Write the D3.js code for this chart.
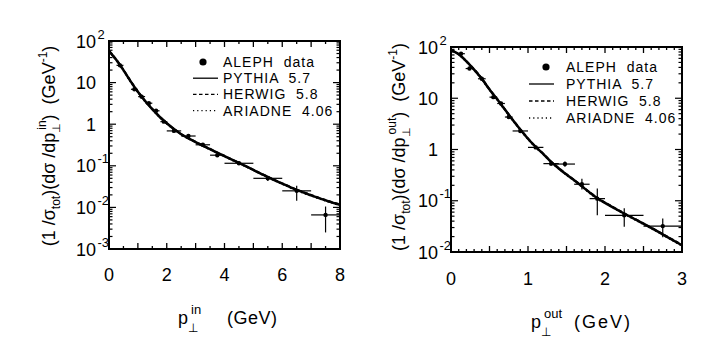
<!DOCTYPE html>
<html><head><meta charset="utf-8">
<script src="https://cdn.jsdelivr.net/npm/d3@7"></script>
<style>
body{margin:0;background:#fff}
svg{display:block}
text{font-family:"Liberation Sans",Arial,sans-serif;fill:#000}
</style>
</head><body>
<svg id="c" width="708" height="353"></svg>
<script>
// ---------------- DATA ----------------
// Left panel: p_perp^in (GeV)
const leftP    = [0.38, 0.88, 1.13, 1.38, 1.63, 1.9, 2.25, 2.75, 3.25, 3.75, 4.5, 5.5, 6.5, 7.5];
const leftV    = [26, 6.9, 4.6, 3.2, 2.1, 1.15, 0.69, 0.52, 0.32, 0.18, 0.115, 0.050, 0.025, 0.0066];
const leftXerr = [0.12, 0.12, 0.12, 0.12, 0.12, 0.12, 0.25, 0.25, 0.25, 0.25, 0.5, 0.5, 0.5, 0.5];
const leftYlo  = [24.5, 6.5, 4.35, 3.0, 1.98, 1.08, 0.65, 0.49, 0.30, 0.168, 0.105, 0.043, 0.0145, 0.0025];
const leftYhi  = [27.5, 7.3, 4.85, 3.4, 2.22, 1.22, 0.73, 0.55, 0.34, 0.192, 0.126, 0.058, 0.033, 0.0105];

const leftCurveP  = [0, 0.25, 0.5, 0.75, 1, 1.25, 1.5, 1.75, 2, 2.5, 3, 3.5, 4, 4.5, 5, 5.5, 6, 6.5, 7, 7.5, 8];
const pythiaLeft  = [57.5, 35.5, 20.0, 10.7, 6.0, 3.6, 2.3, 1.51, 1.05, 0.575, 0.372, 0.251, 0.170, 0.117, 0.0794, 0.0537, 0.0372, 0.0263, 0.0195, 0.0148, 0.0115];
const herwigLeft  = [58, 36, 20.3, 10.9, 6.1, 3.65, 2.33, 1.53, 1.06, 0.58, 0.376, 0.254, 0.172, 0.118, 0.080, 0.0543, 0.0378, 0.0268, 0.0199, 0.0151, 0.0118];
const ariadneLeft = [56.5, 35, 19.7, 10.5, 5.9, 3.55, 2.27, 1.49, 1.04, 0.57, 0.368, 0.248, 0.168, 0.1155, 0.0785, 0.0530, 0.0366, 0.0258, 0.0191, 0.0145, 0.0112];

// Right panel: p_perp^out (GeV)
const rightP    = [0.13, 0.24, 0.4, 0.55, 0.65, 0.75, 0.9, 1.1, 1.3, 1.48, 1.7, 1.9, 2.25, 2.75];
const rightV    = [74, 38, 24, 10.5, 7.9, 4.3, 2.3, 1.1, 0.53, 0.52, 0.21, 0.11, 0.052, 0.032];
const rightXerr = [0.05, 0.05, 0.05, 0.05, 0.05, 0.05, 0.1, 0.1, 0.1, 0.13, 0.1, 0.1, 0.25, 0.25];
const rightYlo  = [70, 36, 22.8, 10, 7.5, 4.1, 2.15, 1.02, 0.48, 0.46, 0.166, 0.052, 0.031, 0.0195];
const rightYhi  = [78, 40, 25.2, 11, 8.3, 4.5, 2.45, 1.18, 0.58, 0.58, 0.27, 0.174, 0.071, 0.045];

const rightCurveP  = [0, 0.1, 0.2, 0.3, 0.4, 0.5, 0.6, 0.7, 0.8, 0.9, 1.0, 1.1, 1.2, 1.3, 1.4, 1.5, 1.6, 1.7, 1.8, 1.9, 2.0, 2.2, 2.4, 2.6, 2.8, 3.0];
const pythiaRight  = [87, 72.4, 52.5, 36.3, 24.0, 14.8, 9.55, 6.03, 3.80, 2.45, 1.62, 1.12, 0.813, 0.575, 0.427, 0.324, 0.251, 0.191, 0.145, 0.112, 0.0912, 0.0617, 0.0427, 0.0295, 0.0200, 0.0135];
const herwigRight  = [88, 73, 53, 36.8, 24.4, 15.0, 9.7, 6.1, 3.85, 2.48, 1.64, 1.13, 0.822, 0.582, 0.432, 0.328, 0.254, 0.194, 0.147, 0.114, 0.0925, 0.0626, 0.0433, 0.0299, 0.0203, 0.0138];
const ariadneRight = [86, 71.8, 52, 35.9, 23.7, 14.6, 9.45, 5.96, 3.76, 2.42, 1.60, 1.11, 0.805, 0.569, 0.422, 0.320, 0.248, 0.189, 0.143, 0.110, 0.0900, 0.0609, 0.0421, 0.0291, 0.0197, 0.0133];

// Ticks and labels
const leftXTicks  = [0, 2, 4, 6, 8];
const rightXTicks = [0, 1, 2, 3];
const leftYTicks  = [1e-3, 1e-2, 1e-1, 1, 10, 100];
const leftYBase   = ["10", "10", "10", "1", "10", "10"];
const leftYSup    = ["-3", "-2", "-1", "", "", "2"];
const rightYTicks = [1e-2, 1e-1, 1, 10, 100];
const rightYBase  = ["10", "10", "1", "10", "10"];
const rightYSup   = ["-2", "-1", "", "", "2"];

const legendLabels = ["ALEPH  data", "PYTHIA  5.7", "HERWIG  5.8", "ARIADNE  4.06"];

// ---------------- DRAW ----------------
const svg = d3.select("#c");

function drawPanel(cfg) {
  const x = d3.scaleLinear().domain(cfg.xDomain).range([cfg.x0, cfg.x1]);
  const y = d3.scaleLog().domain(cfg.yDomain).range([cfg.y1, cfg.y0]);
  const g = svg.append("g");

  const clipId = "clip" + cfg.id;
  svg.append("clipPath").attr("id", clipId).append("rect")
    .attr("x", cfg.x0).attr("y", cfg.y0).attr("width", cfg.x1 - cfg.x0).attr("height", cfg.y1 - cfg.y0);

  // x ticks (inside, bottom and top)
  const xt = d3.range(cfg.xDomain[0], cfg.xDomain[1] + 1e-9, cfg.xMinor);
  xt.forEach(v => {
    const isMaj = Math.abs(v / cfg.xMajor - Math.round(v / cfg.xMajor)) < 1e-6;
    const len = isMaj ? 6 : 3;
    const px = x(v);
    g.append("line").attr("x1", px).attr("x2", px).attr("y1", cfg.y1).attr("y2", cfg.y1 - len)
      .attr("stroke", "#000").attr("stroke-width", 1.3);
    g.append("line").attr("x1", px).attr("x2", px).attr("y1", cfg.y0).attr("y2", cfg.y0 + len)
      .attr("stroke", "#000").attr("stroke-width", 1.3);
  });

  // y log ticks (inside, left and right)
  const lo = Math.round(Math.log10(cfg.yDomain[0])), hi = Math.round(Math.log10(cfg.yDomain[1]));
  for (let d = lo; d <= hi; d++) {
    for (let k = 1; k <= 9; k++) {
      const v = k * Math.pow(10, d);
      if (v > cfg.yDomain[1] * 1.0001) break;
      const len = k === 1 ? 7 : 3.5;
      const py = y(v);
      g.append("line").attr("x1", cfg.x0).attr("x2", cfg.x0 + len).attr("y1", py).attr("y2", py)
        .attr("stroke", "#000").attr("stroke-width", 1.2);
      g.append("line").attr("x1", cfg.x1).attr("x2", cfg.x1 - len).attr("y1", py).attr("y2", py)
        .attr("stroke", "#000").attr("stroke-width", 1.2);
    }
  }

  // frame
  g.append("rect").attr("x", cfg.x0).attr("y", cfg.y0)
    .attr("width", cfg.x1 - cfg.x0).attr("height", cfg.y1 - cfg.y0)
    .attr("fill", "none").attr("stroke", "#000").attr("stroke-width", 2);

  // x tick labels
  cfg.xTicks.forEach(v => {
    g.append("text").attr("x", x(v)).attr("y", cfg.xLabelY)
      .attr("text-anchor", "middle").attr("font-size", 18).text(v);
  });
  // y tick labels
  cfg.yTicks.forEach((v, i) => {
    const py = y(v) + 6.5;
    const bx = cfg.x0 - 13;
    g.append("text").attr("x", bx).attr("y", py).attr("text-anchor", "end")
      .attr("font-size", 18).text(cfg.yBase[i]);
    if (cfg.ySup[i]) {
      g.append("text").attr("x", bx + 1.5).attr("y", py - 9).attr("text-anchor", "start")
        .attr("font-size", 13).text(cfg.ySup[i]);
    }
  });

  // curves
  const line = d3.line().x(d => x(d[0])).y(d => y(d[1])).curve(d3.curveMonotoneX);
  const cg = g.append("g").attr("clip-path", `url(#${clipId})`);
  const curves = [
    {vals: cfg.ariadne, dash: "1.5,2.5", w: 2},
    {vals: cfg.herwig, dash: "4,2.5", w: 2},
    {vals: cfg.pythia, dash: null, w: 2.5}
  ];
  curves.forEach(c => {
    cg.append("path").datum(cfg.curveP.map((p, i) => [p, c.vals[i]]))
      .attr("d", line).attr("fill", "none").attr("stroke", "#000")
      .attr("stroke-width", c.w).attr("stroke-dasharray", c.dash);
  });

  // data points
  const dg = g.append("g").attr("clip-path", `url(#${clipId})`);
  cfg.dataP.forEach((p, i) => {
    const cx = x(p), cy = y(cfg.dataV[i]);
    dg.append("line").attr("x1", x(p - cfg.xErr[i])).attr("x2", x(p + cfg.xErr[i]))
      .attr("y1", cy).attr("y2", cy).attr("stroke", "#000").attr("stroke-width", 1.2);
    dg.append("line").attr("x1", cx).attr("x2", cx)
      .attr("y1", y(cfg.yLo[i])).attr("y2", y(cfg.yHi[i])).attr("stroke", "#000").attr("stroke-width", 1.2);
    dg.append("circle").attr("cx", cx).attr("cy", cy).attr("r", 2.2).attr("fill", "#000");
  });

  // legend
  const L = cfg.legend;
  legendLabels.forEach((lab, i) => {
    const ly = L.y + i * L.dy;
    if (i === 0) {
      g.append("circle").attr("cx", L.dotX).attr("cy", ly).attr("r", 3.6).attr("fill", "#000");
    } else {
      g.append("line").attr("x1", L.lx0).attr("x2", L.lx1).attr("y1", ly).attr("y2", ly)
        .attr("stroke", "#000").attr("stroke-width", 1.3)
        .attr("stroke-dasharray", i === 1 ? null : (i === 2 ? "3.5,2.5" : "1.2,3"));
    }
    g.append("text").attr("x", L.tx).attr("y", ly + 5).attr("font-size", 14)
      .attr("letter-spacing", 1).style("white-space", "pre").text(lab);
  });

  // y title (rotated)
  const yt = g.append("text").attr("transform", `translate(${cfg.yTitleX},${cfg.yTitleY}) rotate(-90)`)
    .attr("text-anchor", "middle").attr("font-size", 18).style("white-space", "pre");
  yt.append("tspan").text("(1 /σ");
  yt.append("tspan").attr("font-size", 12).attr("dy", 5).text("tot");
  yt.append("tspan").attr("dy", -5).text(")(dσ /dp");
  yt.append("tspan").attr("font-size", 11).attr("dy", 5).text("⊥");
  yt.append("tspan").attr("font-size", 12).attr("dx", -7).attr("dy", -14).text(cfg.supText);
  yt.append("tspan").attr("dy", 9).text(")  (GeV");
  yt.append("tspan").attr("font-size", 12).attr("dy", -8).text("-1");
  yt.append("tspan").attr("dy", 8).text(")");

  // x title
  const xt2 = g.append("text").attr("x", cfg.xTitleX).attr("y", cfg.xTitleY).attr("font-size", 18)
    .style("white-space", "pre");
  xt2.append("tspan").text("p");
  xt2.append("tspan").attr("font-size", 12).attr("dy", 8).text("⊥");
  xt2.append("tspan").attr("font-size", 13).attr("dx", -7).attr("dy", -18).text(cfg.supText);
  g.append("text").attr("x", cfg.gevX).attr("y", cfg.xTitleY).attr("font-size", 18)
    .attr("letter-spacing", cfg.gevSpacing).text("(GeV)");
}

drawPanel({
  id: "L", x0: 109, x1: 340, y0: 41, y1: 249,
  xDomain: [0, 8], yDomain: [1e-3, 1e2], xMinor: 0.5, xMajor: 1,
  xTicks: leftXTicks, yTicks: leftYTicks, yBase: leftYBase, ySup: leftYSup,
  xLabelY: 281,
  curveP: leftCurveP, pythia: pythiaLeft, herwig: herwigLeft, ariadne: ariadneLeft,
  dataP: leftP, dataV: leftV, xErr: leftXerr, yLo: leftYlo, yHi: leftYhi,
  legend: {y: 62, dy: 16.2, dotX: 203, lx0: 193, lx1: 218, tx: 223},
  yTitleX: 55, yTitleY: 146, supText: "in",
  xTitleX: 178, xTitleY: 324, gevX: 227, gevSpacing: 0.5
});

drawPanel({
  id: "R", x0: 451, x1: 682, y0: 47, y1: 252,
  xDomain: [0, 3], yDomain: [1e-2, 1e2], xMinor: 0.1, xMajor: 0.5,
  xTicks: rightXTicks, yTicks: rightYTicks, yBase: rightYBase, ySup: rightYSup,
  xLabelY: 285,
  curveP: rightCurveP, pythia: pythiaRight, herwig: herwigRight, ariadne: ariadneRight,
  dataP: rightP, dataV: rightV, xErr: rightXerr, yLo: rightYlo, yHi: rightYhi,
  legend: {y: 67, dy: 17, dotX: 546, lx0: 529, lx1: 554, tx: 566},
  yTitleX: 405, yTitleY: 147, supText: "out",
  xTitleX: 531, xTitleY: 328, gevX: 574, gevSpacing: 2
});
</script>
</body></html>
